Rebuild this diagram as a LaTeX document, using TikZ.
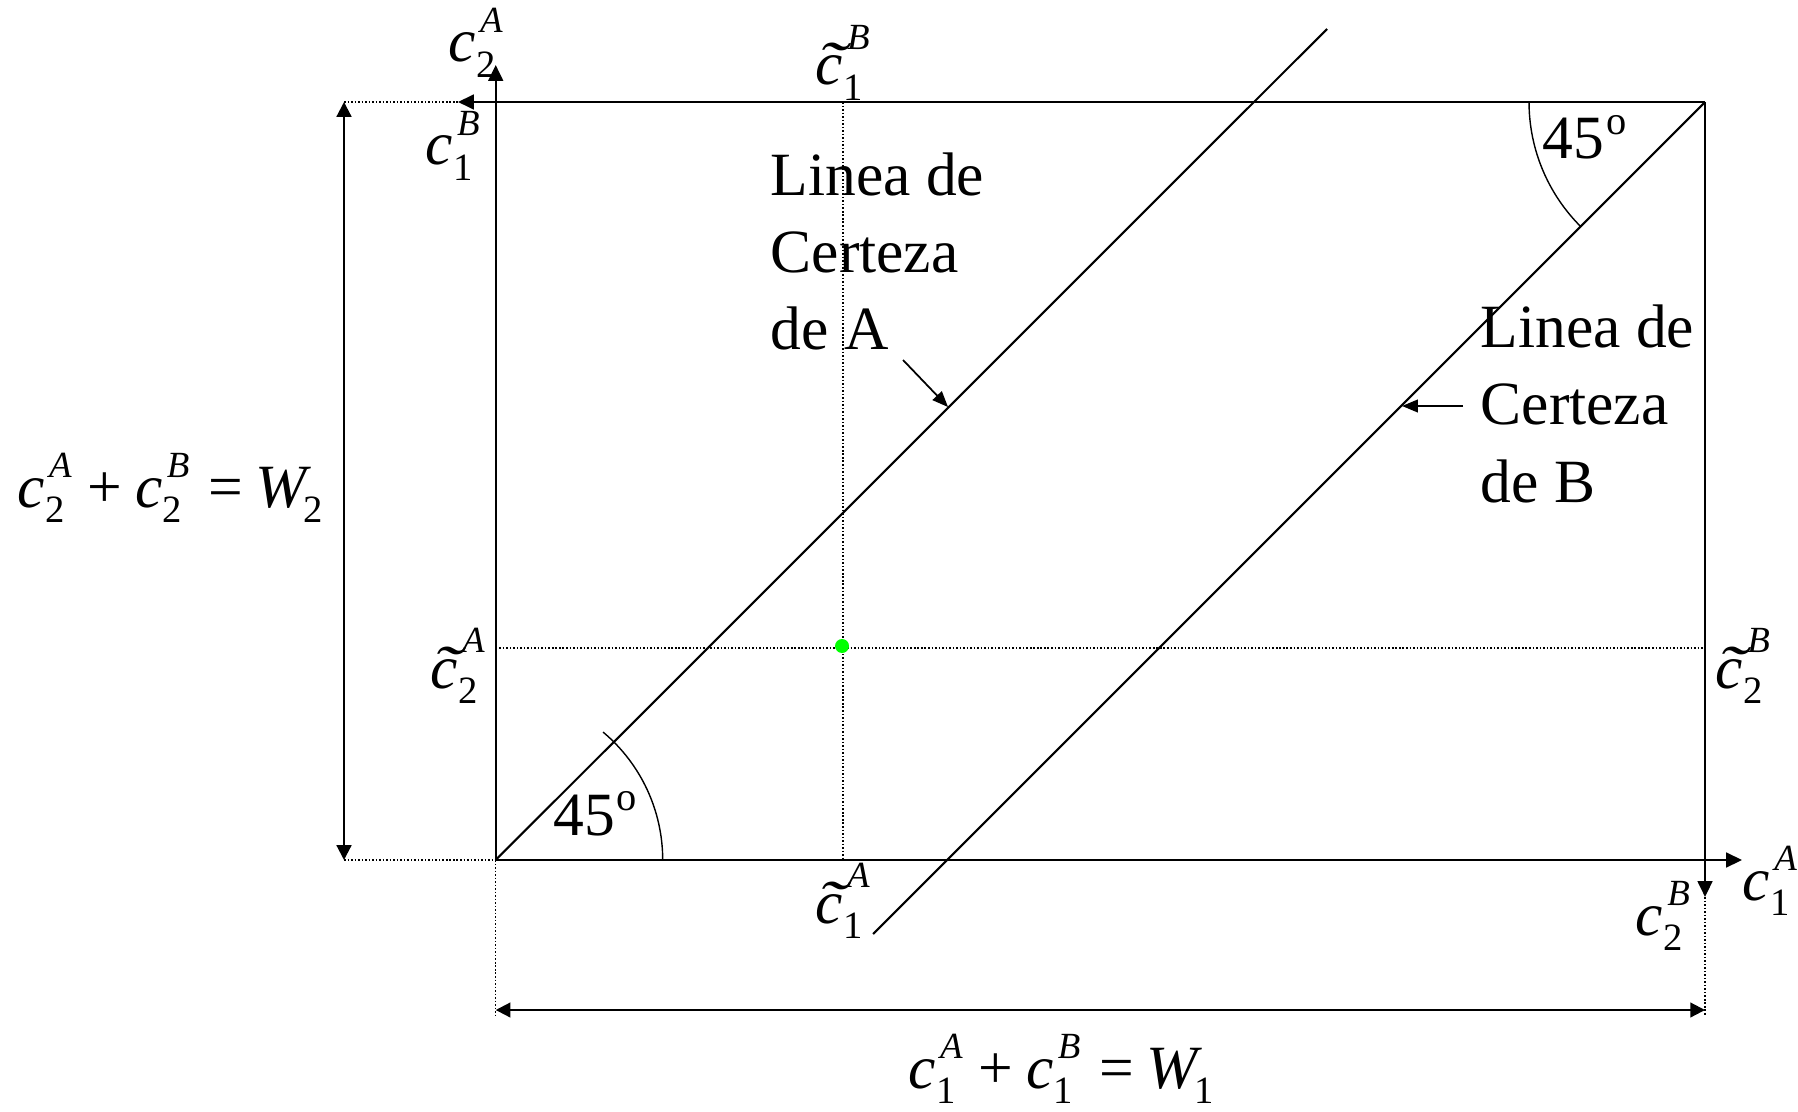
\documentclass[tikz,border=0pt]{standalone}
\usepackage{fontspec}
\setmainfont{Liberation Serif}
\usepackage{graphicx}
\usetikzlibrary{arrows.meta}

\newcommand\ssp[3]{%
  \setbox0=\hbox{\kern1.2pt\fontsize{10.5}{10.5}\selectfont\itshape #3}%
  \setbox2=\hbox{\fontsize{11}{11}\selectfont #2}%
  \ifdim\wd0>\wd2 \dimen0=\wd0 \else \dimen0=\wd2 \fi
  \hbox to \dimen0{\rlap{\raise#1\box0}\lower4.5pt\box2\hss}}
\newcommand\tildec{\setbox4=\hbox{\itshape c}\rlap{\hbox to\wd4{\hss\kern1.5pt\scalebox{1.4}[1]{\itshape\char"02DC}\hss}}\box4}
\newcommand\cv[2]{{\itshape c}\ssp{8.5pt}{#1}{#2}}
\newcommand\tcv[2]{\tildec\ssp{10pt}{#1}{#2}}
\newcommand\angdeg{45\kern0.5pt\raisebox{7pt}{\fontsize{11.5}{11.5}\selectfont o}}

\begin{document}
\begin{tikzpicture}[x=0.1mm,y=-0.1mm,
  solid line/.style={line width=0.6pt},
  axis/.style={line width=0.6pt,-{Triangle[length=4.5pt,width=4.2pt]}},
  dim/.style={line width=0.6pt,{Triangle[length=4.2pt,width=4.2pt]}-{Triangle[length=4.2pt,width=4.2pt]}},
  pointer/.style={line width=0.5pt,-{Triangle[length=4.5pt,width=3.6pt]}},
  dotline/.style={line width=0.4pt,dash pattern=on 0.45pt off 0.55pt},
  thinarc/.style={line width=0.4pt},
  lbl/.style={anchor=base west,inner sep=0pt,font=\fontsize{17.5}{21.9}\selectfont}]
\fill[white] (0,0) rectangle (1798,1111);
\useasboundingbox (0,0) rectangle (1798,1111);

% key points
\coordinate (O) at (495.7,860);
\coordinate (TL) at (495.7,102);
\coordinate (TR) at (1705,102);
\coordinate (BR) at (1705,860);
\coordinate (Ytip) at (495.7,65);
\coordinate (Xtip) at (1742,860);
\coordinate (Btop) at (458,102);
\coordinate (Bright) at (1705,897);
\coordinate (LA) at (1327,29);
\coordinate (LB) at (873,934);
\coordinate (Wl) at (344,102);
\coordinate (Wlb) at (344,860);
\coordinate (Dl) at (495.7,1015);
\coordinate (Dr) at (1705,1015);
\coordinate (W1l) at (495.7,1010);
\coordinate (W1r) at (1705,1010);
\coordinate (Hl) at (495.7,648);
\coordinate (Hr) at (1705,648);
\coordinate (Vt) at (843,102);
\coordinate (Vb) at (843,860);
\coordinate (PA0) at (903,360);
\coordinate (PA1) at (948,407);
\coordinate (PB0) at (1463,406);
\coordinate (PB1) at (1402,406);

% dotted guides
\draw[dotline] (Wl) -- (TL);
\draw[dotline] (Wlb) -- (O);
\draw[dotline] (O) -- (Dl);
\draw[dotline] (Bright) -- (Dr);
\draw[dotline] (Hl) -- (Hr);
\draw[dotline] (Vt) -- (Vb);

% axes
\draw[axis] (O) -- (Ytip);
\draw[axis] (O) -- (Xtip);
\draw[axis] (TR) -- (Btop);
\draw[axis] (TR) -- (Bright);

% certainty lines
\draw[solid line] (O) -- (LA);
\draw[solid line] (TR) -- (LB);

% dimension arrows
\draw[dim] (Wl) -- (Wlb);
\draw[dim] (W1l) -- (W1r);

% angle arcs
\draw[thinarc] (O) ++(167,0) arc[start angle=0,end angle=-50,radius=167];
\draw[thinarc] (TR) ++(-176,0) arc[start angle=180,end angle=135,radius=176];

% pointers
\draw[pointer] (PA0) -- (PA1);
\draw[pointer] (PB0) -- (PB1);

% green point
\fill[green] (842,646) circle[radius=7];

% labels
\node[lbl] (c2A) at (448,62) {\cv{2}{A}};
\node[lbl] (c1B) at (425,165) {\cv{1}{B}};
\node[lbl] (tc1B) at (815,85) {\tcv{1}{B}};
\node[lbl] (tc1A) at (815,923) {\tcv{1}{A}};
\node[lbl] (tc2A) at (430,688) {\tcv{2}{A}};
\node[lbl] (tc2B) at (1715,688) {\tcv{2}{B}};
\node[lbl] (c1A) at (1742,900) {\cv{1}{A}};
\node[lbl] (c2B) at (1635,935) {\cv{2}{B}};
\node[lbl] (eqW2) at (17,507) {\cv{2}{A}\kern4.5pt+\kern3.7pt\cv{2}{B}\kern5.5pt=\kern3.5pt{\itshape W}\kern-1pt\lower4.5pt\hbox{\fontsize{11}{11}\selectfont 2}};
\node[lbl] (eqW1) at (908,1088) {\cv{1}{A}\kern4.5pt+\kern3.7pt\cv{1}{B}\kern5.5pt=\kern3.5pt{\itshape W}\kern-1pt\lower4.5pt\hbox{\fontsize{11}{11}\selectfont 1}};
\node[lbl] (angBL) at (553,835) {\angdeg};
\node[lbl] (angTR) at (1542,159) {\angdeg};
\node[lbl] (la1) at (770,196) {Linea de};
\node[lbl] (la2) at (770,273) {Certeza};
\node[lbl] (la3) at (770,350) {de A};
\node[lbl] (lb1) at (1480,348) {Linea de};
\node[lbl] (lb2) at (1480,425) {Certeza};
\node[lbl] (lb3) at (1480,502) {de B};
\end{tikzpicture}
\end{document}
